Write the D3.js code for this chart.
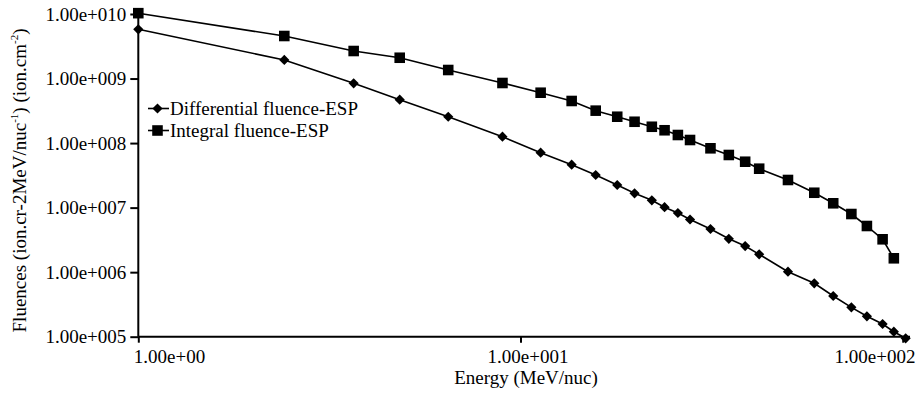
<!DOCTYPE html>
<html>
<head>
<meta charset="utf-8">
<script src="https://cdn.jsdelivr.net/npm/d3@7"></script>
<style>
  html, body { margin: 0; padding: 0; background: #fff; }
  svg { display: block; }
  svg text { font-family: "Liberation Serif", "LiberationSerif", Tinos, "Times New Roman", Times, "Noto Serif", "DejaVu Serif", serif !important; fill: #000; }
</style>
</head>
<body>
<svg id="chart" width="915" height="400"></svg>
<script>
// ---- data ----
const energies = [1.0, 2.41, 3.66, 4.83, 6.47, 8.97, 11.29, 13.61, 15.73, 17.91, 19.88, 22.06, 23.82, 25.81,
  27.77, 31.41, 35.08, 38.71, 42.12, 50.1, 58.7, 65.8, 73.4, 80.6, 88.6, 94.8, 101.8];
const differentialFluence = [5.79e9, 1.94e9, 8.44e8, 4.70e8, 2.56e8, 1.256e8, 7.10e7, 4.62e7, 3.20e7, 2.24e7,
  1.667e7, 1.299e7, 1.015e7, 8.25e6, 6.54e6, 4.66e6, 3.29e6, 2.54e6, 1.89e6, 1.016e6, 6.72e5, 4.27e5,
  2.85e5, 2.07e5, 1.573e5, 1.195e5, 9.45e4];
const integralFluence = [1.03e10, 4.56e9, 2.67e9, 2.10e9, 1.356e9, 8.53e8, 6.03e8, 4.49e8, 3.18e8, 2.56e8,
  2.14e8, 1.79e8, 1.58e8, 1.334e8, 1.116e8, 8.30e7, 6.54e7, 5.14e7, 4.01e7, 2.68e7, 1.70e7, 1.167e7,
  7.96e6, 5.19e6, 3.23e6, 1.64e6];
const seriesNames = ["Differential fluence-ESP", "Integral fluence-ESP"];
const xTickValues = [1, 10, 100];
const xTickLabels = ["1.00e+00", "1.00e+001", "1.00e+002"];
const yTickValues = [1e10, 1e9, 1e8, 1e7, 1e6, 1e5];
const yTickLabels = ["1.00e+010", "1.00e+009", "1.00e+008", "1.00e+007", "1.00e+006", "1.00e+005"];
const xTitle = "Energy (MeV/nuc)";

// ---- layout ----
const svg = d3.select("#chart");
const x = d3.scaleLog().domain([1, 100]).range([138.3, 902.7]);
const y = d3.scaleLog().domain([1e5, 1e10]).range([336.7, 14]);
const FS = 19;

// axes
const yAxis = d3.axisLeft(y).tickValues(yTickValues).tickSize(8).tickPadding(4)
  .tickFormat((d, i) => yTickLabels[i]);
const gy = svg.append("g").attr("transform", `translate(${x(1)},0)`).call(yAxis);
gy.attr("font-family", null).attr("font-size", FS);
gy.select(".domain").remove();
gy.selectAll(".tick line").attr("stroke", "#000").attr("stroke-width", 2);
gy.selectAll(".tick text").attr("fill", "#000");

const xAxis = d3.axisBottom(x).tickValues(xTickValues).tickSize(6).tickPadding(6.5)
  .tickFormat((d, i) => xTickLabels[i]);
const gx = svg.append("g").attr("transform", `translate(0,${y(1e5)})`).call(xAxis);
gx.attr("font-family", null).attr("font-size", FS);
gx.select(".domain").remove();
gx.selectAll(".tick line").attr("stroke", "#000").attr("stroke-width", 2);
gx.selectAll(".tick text").attr("fill", "#000")
  .attr("text-anchor", (d, i) => ["start", "middle", "end"][i])
  .attr("dx", (d, i) => [-5, 7, 12.3][i]);

// axis lines
svg.append("line").attr("x1", x(1)).attr("x2", x(1)).attr("y1", y(1e10) - 3).attr("y2", y(1e5))
  .attr("stroke", "#000").attr("stroke-width", 2);
svg.append("line").attr("x1", x(1)).attr("x2", 910).attr("y1", y(1e5)).attr("y2", y(1e5))
  .attr("stroke", "#000").attr("stroke-width", 2);

// titles
svg.append("text").attr("x", 526).attr("y", 384).attr("text-anchor", "middle")
  .attr("font-size", FS).text(xTitle);

const yt = svg.append("text").attr("transform", "translate(26,180.5) rotate(-90)")
  .attr("text-anchor", "middle").attr("font-size", FS);
yt.append("tspan").text("Fluences (ion.cr-2MeV/nuc");
yt.append("tspan").attr("font-size", 11).attr("dy", -8).text("-1");
yt.append("tspan").attr("dy", 8).text(") (ion.cm");
yt.append("tspan").attr("font-size", 11).attr("dy", -8).text("-2");
yt.append("tspan").attr("dy", 8).text(")");

// series
const diffData = energies.map((e, i) => [e, differentialFluence[i]]);
const intData = integralFluence.map((v, i) => [energies[i], v]);
const line = d3.line().x(d => x(d[0])).y(d => y(d[1]));

const diamond = d3.symbol(d3.symbolSquare, 52)();
const square = d3.symbol(d3.symbolSquare, 112)();

function drawSeries(data, path, rot) {
  svg.append("path").datum(data).attr("d", line).attr("fill", "none")
    .attr("stroke", "#000").attr("stroke-width", 1.6);
  svg.append("g").selectAll("path").data(data).join("path")
    .attr("d", path).attr("fill", "#000")
    .attr("transform", d => `translate(${x(d[0])},${y(d[1])}) rotate(${rot})`);
}
drawSeries(diffData, diamond, 45);
drawSeries(intData, square, 0);

// legend
const legendRows = [
  { name: seriesNames[0], path: diamond, rot: 45, ly: 108.5 },
  { name: seriesNames[1], path: square, rot: 0, ly: 130.5 }
];
legendRows.forEach(r => {
  svg.append("line").attr("x1", 148).attr("x2", 169).attr("y1", r.ly).attr("y2", r.ly)
    .attr("stroke", "#000").attr("stroke-width", 1.6);
  svg.append("path").attr("d", r.path).attr("fill", "#000")
    .attr("transform", `translate(157.5,${r.ly}) rotate(${r.rot})`);
  svg.append("text").attr("x", 170).attr("y", r.ly + 6.5).attr("font-size", FS).text(r.name);
});
</script>
</body>
</html>
